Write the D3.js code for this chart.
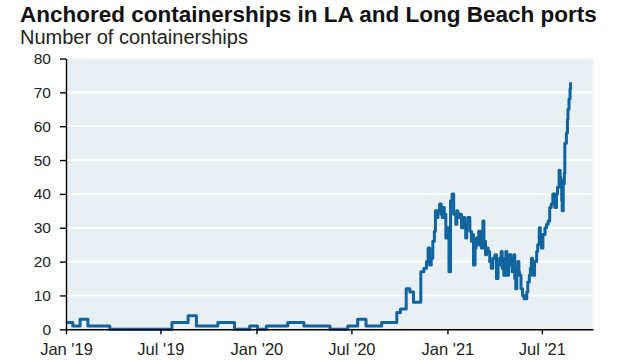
<!DOCTYPE html>
<html><head><meta charset="utf-8">
<script src="https://cdn.jsdelivr.net/npm/d3@7"></script>
<style>body{margin:0;background:#fff}svg{display:block}text{font-family:"Liberation Sans",Arial,sans-serif}</style>
</head><body><svg id="c" width="640" height="360"></svg>
<script>
const title = "Anchored containerships in LA and Long Beach ports";
const subtitle = "Number of containerships";
const yTicks = [0,10,20,30,40,50,60,70,80];
const xTickDates = ["2019-01-01","2019-07-01","2020-01-01","2020-07-01","2021-01-01","2021-07-01"];
const xTickLabels = ["Jan '19","Jul '19","Jan '20","Jul '20","Jan '21","Jul '21"];
const dates = ["2019-01-01","2019-01-14","2019-01-28","2019-02-12","2019-03-26","2019-07-23","2019-08-23","2019-09-08","2019-10-19","2019-11-20","2019-12-19",
"2020-01-03","2020-01-20","2020-03-01","2020-04-01","2020-05-21","2020-06-24","2020-07-13","2020-07-29","2020-08-28","2020-09-26","2020-10-03","2020-10-14","2020-10-21","2020-10-28",
"2020-11-11","2020-11-17","2020-11-22","2020-11-25","2020-11-28","2020-12-01","2020-12-04","2020-12-07","2020-12-09","2020-12-12","2020-12-14","2020-12-17","2020-12-20","2020-12-22","2020-12-24","2020-12-26","2020-12-29",
"2021-01-01","2021-01-04","2021-01-07","2021-01-10","2021-01-13","2021-01-17","2021-01-19","2021-01-21","2021-01-24","2021-01-28","2021-01-31",
"2021-02-03","2021-02-05","2021-02-07","2021-02-09","2021-02-13","2021-02-16","2021-02-18","2021-02-20","2021-02-23","2021-02-25","2021-02-28",
"2021-03-02","2021-03-05","2021-03-07","2021-03-10","2021-03-12","2021-03-15","2021-03-17","2021-03-20","2021-03-23","2021-03-26","2021-03-29",
"2021-04-02","2021-04-05","2021-04-08","2021-04-11","2021-04-14","2021-04-16","2021-04-19","2021-04-21","2021-04-23","2021-04-25","2021-04-28","2021-04-30",
"2021-05-03","2021-05-05","2021-05-07","2021-05-09","2021-05-10","2021-05-12","2021-05-14","2021-05-16","2021-05-18","2021-05-19","2021-05-22","2021-05-25","2021-05-28","2021-05-30",
"2021-06-02","2021-06-04","2021-06-07","2021-06-09","2021-06-11","2021-06-13","2021-06-14","2021-06-17","2021-06-21","2021-06-23","2021-06-26","2021-06-28","2021-06-30",
"2021-07-03","2021-07-07","2021-07-10","2021-07-13","2021-07-16","2021-07-19","2021-07-22","2021-07-26","2021-07-29","2021-07-31",
"2021-08-03","2021-08-05","2021-08-06","2021-08-08","2021-08-09","2021-08-11","2021-08-13","2021-08-14","2021-08-16","2021-08-17","2021-08-19","2021-08-20","2021-08-22","2021-08-24","2021-08-25"];
const values = [2,1,3,1,0,2,4,1,2,0,1,
0,1,2,1,0,1,3,1,2,5,6,12,11,8,
17,18,20,24,19,21,26,29,35,33,35,37,34,33,36,34,27,
30,17,38,40,34,31,35,33,34,30,33,
30,27,31,33,29,26,28,19,24,27,25,
29,26,24,32,26,22,24,23,20,18,21,
22,15,19,21,23,18,16,21,23,16,20,22,
19,17,21,22,15,12,18,20,17,16,12,10,9,9,
11,14,16,18,21,17,16,20,23,25,30,27,24,
28,30,31,32,36,37,40,36,40,42,
47,45,44,38,35,43,46,55,55,58,62,65,68,71,73];

const parse = d3.timeParse("%Y-%m-%d");
const data = dates.map((d,i)=>({date:parse(d), value:values[i]}));
const svg = d3.select("#c");
const L=66, R=593, T=58.5, B=329.3;
const x = d3.scaleTime().domain([parse("2019-01-01"), parse("2021-10-07")]).range([L,R]);
const y = d3.scaleLinear().domain([0,80]).range([B,T]);

svg.append("rect").attr("x",L).attr("y",T).attr("width",R-L).attr("height",B-T).attr("fill","#e8f0f4");
svg.append("g").selectAll("line").data(yTicks.filter(v=>v>0&&v<80)).join("line")
  .attr("x1",L).attr("x2",R).attr("y1",d=>y(d)).attr("y2",d=>y(d))
  .attr("stroke","#ffffff").attr("stroke-width",1.6);

const line = d3.line().curve(d3.curveStepAfter).x(d=>x(d.date)).y(d=>y(d.value));
svg.append("path").datum(data).attr("d",line).attr("fill","none")
  .attr("stroke","#11649d").attr("stroke-width",3).attr("stroke-linejoin","round");

const yAxis = svg.append("g").attr("transform",`translate(${L},0)`)
  .call(d3.axisLeft(y).tickValues(yTicks).tickSize(6).tickPadding(9).tickSizeOuter(0));
yAxis.select(".domain").attr("stroke","#000").attr("stroke-width",1.4);
yAxis.selectAll(".tick line").attr("stroke","#000").attr("stroke-width",1.4);
yAxis.selectAll("text").attr("font-size",15.5).attr("fill","#222");

const xAxis = svg.append("g").attr("transform",`translate(0,${B})`)
  .call(d3.axisBottom(x).tickValues(xTickDates.map(parse)).tickFormat((d,i)=>xTickLabels[i]).tickSize(5).tickPadding(9).tickSizeOuter(0));
xAxis.select(".domain").attr("stroke","#000").attr("stroke-width",1.4);
xAxis.selectAll(".tick line").attr("stroke","#000").attr("stroke-width",1.4);
xAxis.selectAll("text").attr("font-size",16.5).attr("fill","#222");

svg.append("text").attr("x",20).attr("y",22).attr("font-size",22.5).attr("font-weight","bold").attr("fill","#111").text(title);
svg.append("text").attr("x",20).attr("y",44).attr("font-size",20).attr("fill","#222").text(subtitle);
</script></body></html>
